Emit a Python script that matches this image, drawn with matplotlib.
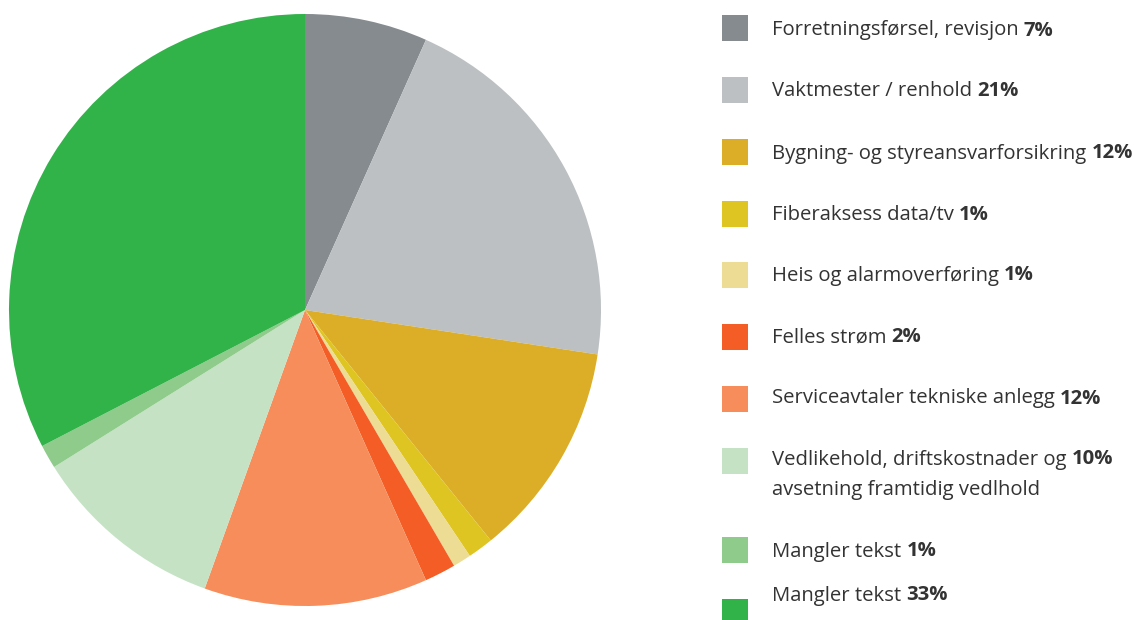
import matplotlib.pyplot as plt

# shares (legend shows rounded values)
labels = ['Forretningsførsel, revisjon', 'Vaktmester / renhold',
          'Bygning- og styreansvarforsikring', 'Fiberaksess data/tv',
          'Heis og alarmoverføring', 'Felles strøm',
          'Serviceavtaler tekniske anlegg',
          'Vedlikehold, driftskostnader og', 'Mangler tekst', 'Mangler tekst']
pct_text = ['7%', '21%', '12%', '1%', '1%', '2%', '12%', '10%', '1%', '33%']
shares = [6.7, 20.7, 11.8, 1.4, 1.0, 1.7, 12.2, 10.6, 1.3, 32.6]
colors = ['#858b8e', '#bcc0c2', '#dcae27', '#dfc521', '#eddc94',
          '#f45d25', '#f68d5a', '#c5e3c4', '#8fcb8a', '#32b34a']
extra_line = {7: 'avsetning framtidig vedlhold'}

W, H = 1141, 620
fig = plt.figure(figsize=(W / 100, H / 100), dpi=100)

# pie: centre (305,310) px, radius 296 px
cx, cy, r = 305, 310, 296
ax = fig.add_axes([(cx - r) / W, (H - cy - r) / H, 2 * r / W, 2 * r / H])
ax.pie(shares, colors=colors, startangle=90, counterclock=False,
       wedgeprops={'linewidth': 0})
ax.set_xlim(-1, 1)
ax.set_ylim(-1, 1)
ax.set_aspect('equal')
ax.axis('off')

# legend drawn by hand in pixel coords
lax = fig.add_axes([0, 0, 1, 1])
lax.set_xlim(0, W)
lax.set_ylim(H, 0)
lax.axis('off')

sq_top = [15, 77, 139, 201, 262, 324, 386, 448, 537, 599]
txt_y = [28, 89, 151, 212, 273, 335, 396, 457, 549, 593]  # cap centres
txt_col = '#333333'
fam = 'Open Sans'
fs = 14.6

renderer = fig.canvas.get_renderer()
inv = lax.transData.inverted()

for i in range(len(labels)):
    lax.add_patch(plt.Rectangle((722, sq_top[i]), 26, 26, color=colors[i],
                                linewidth=0))
    base = txt_y[i] + 7.5
    t = lax.text(772, base, labels[i] + ' ', fontsize=fs, family=fam,
                 color=txt_col, va='baseline', ha='left')
    bb = t.get_window_extent(renderer)
    x_end = inv.transform((bb.x1, bb.y0))[0]
    lax.text(x_end, base, pct_text[i], fontsize=fs, family=fam,
             fontweight='bold', color=txt_col, va='baseline', ha='left')
    if i in extra_line:
        lax.text(772, base + 30, extra_line[i], fontsize=fs, family=fam,
                 color=txt_col, va='baseline', ha='left')

fig.savefig('out.png', dpi=100)
